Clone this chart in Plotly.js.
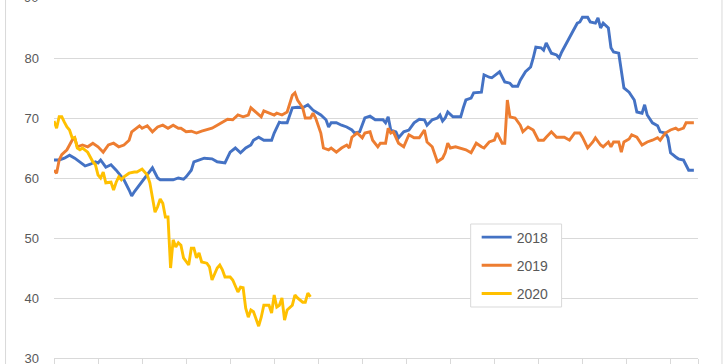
<!DOCTYPE html>
<html>
<head>
<meta charset="utf-8">
<script src="https://cdn.plot.ly/plotly-3.0.1.min.js"></script>
<style>html,body{margin:0;padding:0;background:#fff;}#chart{width:728px;height:364px;}</style>
</head>
<body>
<div id="chart"></div>
<script>
// Series names
const seriesNames = ["2018", "2019", "2020"];
const yTickVals = [30, 40, 50, 60, 70, 80];

// 2018 (day index, value)
const x2018 = [0,2,4,6,8,10,12,14,16,17,18,20,22,24,25,27,29,30,31,32,34,36,38,40,41,43,46,48,50,51,53,54,56,58,61,63,66,68,70,72,74,76,77,79,81,84,85,87,88,90,92,94,96,98,100,102,103,105,106,107,109,111,113,115,116,118,120,122,124,127,128,129,130,132,133,135,137,139,141,143,144,146,148,149,150,151,152,154,157,158,159,161,162,165,166,168,169,172,174,176,177,179,180,182,184,185,186,188,189,190,192,194,195,196,198,200,202,203,204,206,207,209,210,211,212,214,215,216,218,219,220,222,224,225,227,228,229,231,233,234,236,237,238,240,241,243,244,245,247];
const y2018 = [63.0,63,63.3,63.8,63.3,62.7,62,62.3,62.7,62.5,63,61.8,62.2,61.3,60.8,59.7,58,57,57.7,58.3,59.4,60.5,61.7,60,59.7,59.7,59.7,60,59.8,60.2,61.3,62.7,63,63.3,63.2,62.7,62.5,64.3,65,64.2,65,65.5,66.3,66.8,66.3,66.3,67.5,69.3,69.2,69.2,71.7,71.8,71.7,72.2,71.3,70.8,70.5,69.7,68.5,69.2,69.2,68.8,68.5,68,67.5,67.7,70,70.3,69.7,69.7,69.2,70.2,68,67.7,66.7,67.7,68,69.2,69.8,69.7,68.8,69.7,70,70.5,69.5,70,71,70.2,70.2,71.7,73,73.3,74.2,74.3,77.2,76.8,76.7,77.7,76,75.8,75.3,75.3,76.3,77.7,78.5,80,81.8,81.7,81.3,82.5,80.8,80.5,80,81,82.7,84.2,85.8,86,86.8,86.8,86,85.8,86.7,85,85.8,85,81.7,81,80.8,78,75,74.3,73,71,70.8,72.2,70.5,69.2,68.7,67.7,67.5,66.7,64.2,63.5,63.2,63,62.2,61.3,61.3];

// 2019
const x2019 = [0,1,2,3,5,7,8,9,11,13,15,17,19,21,23,25,27,29,30,31,33,34,36,38,40,42,44,46,48,49,51,53,55,57,59,61,63,65,67,69,71,73,75,76,78,80,81,83,85,86,88,90,92,93,94,96,97,99,100,101,103,104,106,107,109,111,113,114,115,117,119,120,122,123,125,126,128,129,130,131,133,135,137,139,141,143,144,146,148,150,151,152,153,155,157,159,161,163,165,166,168,170,171,173,174,175,176,178,180,181,183,185,187,189,190,192,194,197,199,201,203,204,206,208,209,211,212,214,215,216,218,219,220,222,223,225,227,229,231,233,234,236,238,240,241,243,244,246,247];
const y2019 = [61.3,60.8,63,63.9,64.7,66.3,66.7,65.2,65.5,65.2,65.8,65.2,64.3,65.5,65.8,65.2,65.5,66.3,67.7,68,68.7,68.3,68.7,67.7,68.5,68.8,68.3,68.8,68.3,68.3,67.7,67.8,67.5,67.8,68,68.3,68.8,69.3,69.8,69.7,70.5,70.2,70.5,71.7,71,70.2,71.2,70.8,70.5,70.8,70.5,71,73.8,74.2,73,71.7,70,70,70.8,70,67.5,65,64.7,65,64.3,65,65.5,65,66.8,67.5,66.7,67.5,67.7,66.3,65.2,65.8,65.8,68.3,67.5,67.7,65.8,65.2,67.2,66.7,66.7,68,66,65.2,62.7,63.3,64.2,65.8,65,65.2,65,64.7,64.2,65.8,65.2,65,66,66.3,67.5,65.8,65.8,73,70.2,70,68.8,67.7,68.5,68,66.3,66.3,66.8,67.7,66.8,66.8,66.3,67.5,67.5,66.8,65,66,66.7,65.5,65.2,66,65.2,66,66,64.3,66,66.5,67.2,66.8,65.5,66,66.3,66.7,66.3,67.5,68,68.3,68,68.3,69.2,69.2,69.2];

// 2020
const x2020 = [0,1,2,3,4,5,6,7,8,9,10,11,13,14,15,16,17,18,19,20,22,23,24,25,26,27,29,31,32,34,35,36,37,38,39,40,41,42,43,44,45,46,47,48,49,50,51,52,53,54,55,56,57,59,60,61,63,64,65,66,68,69,71,72,73,74,75,76,77,78,79,80,81,83,84,85,86,87,88,89,90,92,93,94,96,97,98,99];
const y2020 = [69.5,68.3,70.2,70.2,69.3,68.5,68,66.7,66.7,65,64.7,65,64.3,63.5,62.7,62.2,60.5,60,61,59.2,59.3,58,59.3,60.2,59.7,60.2,60.8,61,61,61.5,61,60.5,59.2,57,54.3,55.2,56.5,55.8,53.5,53.5,45,49.7,48.5,49.2,48.8,46.7,46,45.5,48.3,48.3,46.7,47.5,46,45.8,45.2,43,45,45.5,44.7,43.5,43.5,43,41,41.8,41.7,38.3,36.8,38,37.7,36.3,35.3,36.8,38.8,38.8,37.5,40.5,38.5,38.8,40,36.3,38,38.8,40.5,40,39.3,39.3,40.8,40.2];

const colors = ["#4472C4", "#ED7D31", "#FFC000"];
const xs = [x2018, x2019, x2020];
const ys = [y2018, y2019, y2020];

const traces = seriesNames.map((n, i) => ({
  type: "scatter", mode: "lines", name: n, legendgroup: "g" + i,
  x: xs[i], y: ys[i],
  line: {color: colors[i], width: 2.9, shape: "linear"},
  hoverinfo: "skip"
}));

const tickPositions = [];
for (let t = 0; t <= 238; t += 17) tickPositions.push(t);
tickPositions.push(248.6);

const grey = "#d9d9d9";
const plotL = 54, plotR = 698.5, plotW = plotR - plotL, plotH = 358;
const px = (v) => (v - plotL) / plotW;
const py = (v) => (plotH - v) / plotH;
const layout = {
  width: 728, height: 364,
  margin: {l: plotL, r: 728 - plotR, t: 0, b: 6, pad: 0},
  paper_bgcolor: "#ffffff", plot_bgcolor: "#ffffff",
  font: {family: "Liberation Sans, Arial, sans-serif", color: "#595959"},
  showlegend: true,
  legend: {
    x: px(477), y: py(221.5), xanchor: "left", yanchor: "top",
    borderwidth: 0, bgcolor: "rgba(0,0,0,0)",
    font: {size: 14, color: "#595959"}, tracegroupgap: 7, traceorder: "grouped"
  },
  xaxis: {
    range: [0, 248.6], showgrid: false, zeroline: false,
    showline: true, linecolor: grey, linewidth: 1,
    ticks: "outside", ticklen: 6, tickcolor: grey, tickwidth: 1,
    tickmode: "array", tickvals: tickPositions, showticklabels: false, fixedrange: true
  },
  yaxis: {
    range: [30, 30 + plotH / 6], tickmode: "array", tickvals: yTickVals,
    showgrid: true, gridcolor: grey, gridwidth: 1, zeroline: false, showline: false,
    ticks: "", tickfont: {size: 13, color: "#595959"}, ticklabelstandoff: 14,
    ticklabeloverflow: "allow", fixedrange: true
  },
  annotations: [{
    xref: "paper", yref: "paper", x: 0, y: 1 + 2 / plotH, xanchor: "right", yanchor: "middle",
    xshift: -14, text: "90", showarrow: false, font: {size: 13, color: "#595959"}
  }],
  shapes: [
    {type: "rect", xref: "paper", yref: "paper", x0: px(471), x1: px(562), y0: py(307), y1: py(224),
     fillcolor: "#ffffff", line: {color: grey, width: 1}, layer: "above"},
    {type: "line", xref: "paper", yref: "paper", x0: px(5.5), x1: px(5.5), y0: -0.1, y1: 1.1, line: {color: grey, width: 1}},
    {type: "line", xref: "paper", yref: "paper", x0: px(722.5), x1: px(722.5), y0: -0.1, y1: 1.1, line: {color: grey, width: 1}}
  ]
};

Plotly.newPlot("chart", traces, layout, {displayModeBar: false, staticPlot: true});
</script>
</body>
</html>
